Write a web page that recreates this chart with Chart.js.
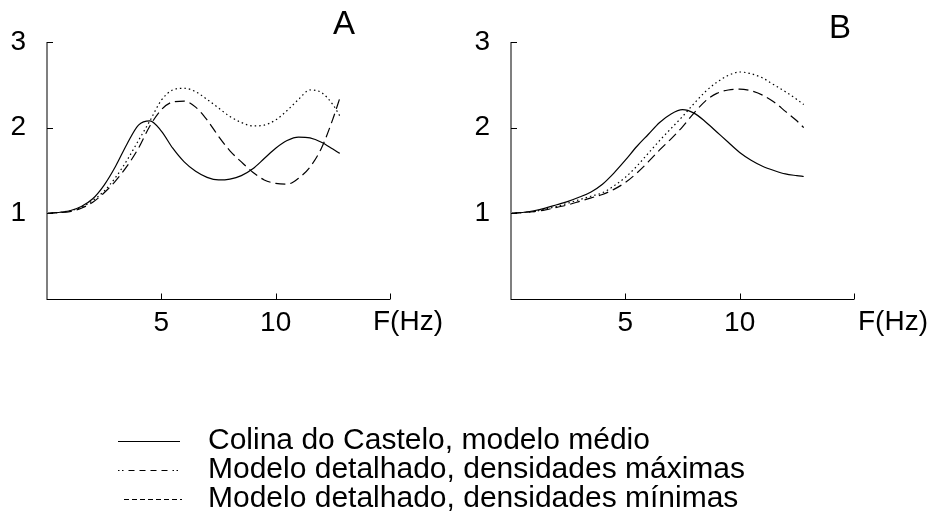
<!DOCTYPE html>
<html lang="pt">
<head>
  <meta charset="UTF-8" />
  <title>Colina do Castelo - amplificação</title>
  <script src="https://cdn.jsdelivr.net/npm/chart.js"></script>
  <style>
    body {
      margin: 0;
      width: 932px;
      height: 526px;
      background: #fff;
      font-family: "Liberation Sans", Arial, sans-serif;
      position: relative;
      overflow: hidden;
    }
    canvas {
      position: absolute;
      top: 0;
    }
    #chartA { left: 0; }
    #chartB { left: 464px; }
    #legend {
      position: absolute;
      left: 0;
      top: 0;
    }
    .leg-text {
      position: absolute;
      left: 208px;
      font-size: 30px;
      line-height: 29px;
      white-space: nowrap;
      color: #000;
    }
  </style>
</head>
<body>
  <canvas id="chartA" width="466" height="340"></canvas>
  <canvas id="chartB" width="466" height="340"></canvas>

  <svg id="legend" width="932" height="526">
    <line x1="118" y1="441.5" x2="180" y2="441.5" stroke="#000" stroke-width="1.2" />
    <line x1="118" y1="470.5" x2="180" y2="470.5" stroke="#000" stroke-width="1.2"
          stroke-dasharray="1.5 2.5 1.5 5 6 5 6 5 6 5 6 5" />
    <line x1="124" y1="499.5" x2="182" y2="499.5" stroke="#000" stroke-width="1.2"
          stroke-dasharray="5 3" />
  </svg>
  <div id="legendText"></div>

  <script>
    // frequencias (Hz)
    const freq = [0, 0.5, 1, 1.5, 2, 2.5, 3, 3.5, 4, 4.5, 5, 5.5, 6, 6.5, 7, 7.5,
                  8, 8.5, 9, 9.5, 10, 10.5, 11, 11.5, 12, 12.5, 12.8];

    // painel A
    const aMedio = [1.00, 1.01, 1.03, 1.08, 1.17, 1.33, 1.55, 1.81, 2.03, 2.08, 1.96, 1.76, 1.60, 1.49,
                    1.42, 1.39, 1.40, 1.44, 1.52, 1.64, 1.76, 1.85, 1.89, 1.88, 1.83, 1.75, 1.70];
    const aMax   = [1.00, 1.01, 1.03, 1.07, 1.15, 1.26, 1.42, 1.62, 1.85, 2.08, 2.32, 2.44, 2.46, 2.42,
                    2.33, 2.23, 2.13, 2.06, 2.02, 2.03, 2.09, 2.20, 2.33, 2.44, 2.41, 2.27, 2.14];
    const aMin   = [1.00, 1.01, 1.02, 1.06, 1.13, 1.24, 1.38, 1.55, 1.76, 2.02, 2.21, 2.30, 2.31, 2.24,
                    2.09, 1.90, 1.73, 1.60, 1.48, 1.39, 1.35, 1.34, 1.41, 1.54, 1.76, 2.10, 2.34];

    // painel B
    const bMedio = [1.00, 1.01, 1.03, 1.06, 1.10, 1.14, 1.19, 1.25, 1.34, 1.47, 1.62, 1.78, 1.92, 2.06,
                    2.16, 2.21, 2.17, 2.07, 1.95, 1.83, 1.71, 1.62, 1.55, 1.50, 1.46, 1.44, 1.43];
    const bMax   = [1.00, 1.01, 1.02, 1.05, 1.08, 1.12, 1.16, 1.20, 1.24, 1.32, 1.42, 1.55, 1.70, 1.85,
                    1.99, 2.13, 2.28, 2.42, 2.53, 2.61, 2.65, 2.63, 2.58, 2.50, 2.42, 2.33, 2.27];
    const bMin   = [1.00, 1.01, 1.02, 1.04, 1.07, 1.10, 1.14, 1.18, 1.22, 1.28, 1.36, 1.47, 1.60, 1.74,
                    1.87, 2.01, 2.17, 2.31, 2.40, 2.44, 2.45, 2.43, 2.38, 2.30, 2.19, 2.08, 2.00];

    const seriesNames = [
      'Colina do Castelo, modelo médio',
      'Modelo detalhado, densidades máximas',
      'Modelo detalhado, densidades mínimas'
    ];
    const xTicks = [5, 10, 15];
    const yTicks = [1, 2, 3];
    const xUnit = 'F(Hz)';

    Chart.defaults.font.family = '"Liberation Sans", Arial, sans-serif';
    Chart.defaults.color = '#000';

    // legenda em texto
    const legendText = document.getElementById('legendText');
    seriesNames.forEach((name, i) => {
      const d = document.createElement('div');
      d.className = 'leg-text';
      d.style.top = (424 + i * 29) + 'px';
      d.textContent = name;
      legendText.appendChild(d);
    });

    // eixos desenhados a mao, com ticks para dentro
    const axesPlugin = {
      id: 'axes',
      afterDraw(chart, args, opts) {
        const { ctx, chartArea: a, scales: { x, y } } = chart;
        ctx.save();
        ctx.strokeStyle = '#7f7f7f';
        ctx.lineWidth = 2;
        ctx.beginPath();
        ctx.moveTo(a.left, a.top);
        ctx.lineTo(a.left, a.bottom + 1);
        ctx.stroke();

        ctx.strokeStyle = '#000';
        ctx.lineWidth = 1;
        ctx.beginPath();
        yTicks.forEach(v => {
          const py = Math.round(y.getPixelForValue(v)) + 0.5;
          ctx.moveTo(a.left, py);
          ctx.lineTo(a.left + 6, py);
        });
        const by = a.bottom + 0.5;
        ctx.moveTo(a.left, by);
        ctx.lineTo(a.right, by);
        xTicks.forEach(v => {
          const px = Math.round(x.getPixelForValue(v)) + 0.5;
          ctx.moveTo(px, by);
          ctx.lineTo(px, by - 6);
        });
        ctx.stroke();

        ctx.fillStyle = '#000';
        ctx.textBaseline = 'middle';
        ctx.textAlign = 'left';
        ctx.font = '28px "Liberation Sans", Arial, sans-serif';
        ctx.fillText(xUnit, opts.unitX, 322);
        ctx.textAlign = 'center';
        ctx.font = '33px "Liberation Sans", Arial, sans-serif';
        ctx.fillText(opts.panel, opts.panelX, opts.panelY);
        ctx.restore();
      }
    };

    function makeChart(id, medio, max, min, panel, panelX, panelY, unitX) {
      const pts = arr => freq.map((f, i) => ({ x: f, y: arr[i] }));
      return new Chart(document.getElementById(id), {
        type: 'line',
        data: {
          datasets: [
            { label: seriesNames[0], data: pts(medio), borderColor: '#000', borderWidth: 1.2 },
            { label: seriesNames[1], data: pts(max), borderColor: '#000', borderWidth: 1.2, borderDash: [1.5, 3] },
            { label: seriesNames[2], data: pts(min), borderColor: '#000', borderWidth: 1.2, borderDash: [10, 5] }
          ]
        },
        options: {
          responsive: false,
          animation: false,
          devicePixelRatio: 1,
          layout: { padding: { top: 42, right: 76, left: 0, bottom: 0 } },
          elements: {
            point: { radius: 0 },
            line: { tension: 0.4, cubicInterpolationMode: 'monotone' }
          },
          plugins: {
            legend: { display: false },
            tooltip: { enabled: false },
            axes: { panel, panelX, panelY, unitX }
          },
          scales: {
            x: {
              type: 'linear',
              min: 0,
              max: 15,
              afterBuildTicks: s => { s.ticks = xTicks.map(v => ({ value: v })); },
              afterFit: s => { s.height = 41; },
              grid: { display: false, drawTicks: false },
              border: { display: false },
              ticks: {
                padding: 7,
                font: { size: 28 },
                callback: v => (v === 15 ? '' : String(v))
              }
            },
            y: {
              min: 0,
              max: 3,
              afterBuildTicks: s => { s.ticks = yTicks.map(v => ({ value: v })); },
              afterFit: s => { s.width = 47; },
              grid: { display: false, drawTicks: false },
              border: { display: false },
              ticks: { padding: 21, font: { size: 28 } }
            }
          }
        },
        plugins: [axesPlugin]
      });
    }

    makeChart('chartA', aMedio, aMax, aMin, 'A', 344, 25, 373);
    makeChart('chartB', bMedio, bMax, bMin, 'B', 376, 29, 394);
  </script>
</body>
</html>
